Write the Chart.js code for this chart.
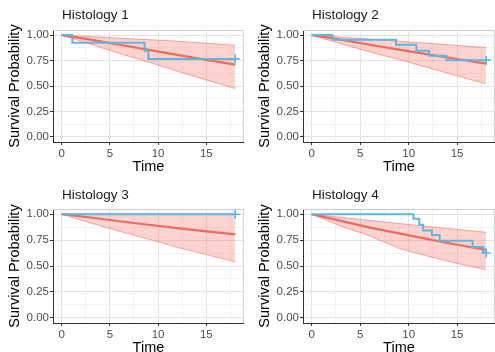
<!DOCTYPE html>
<html>
<head>
<meta charset="utf-8">
<script src="https://cdn.jsdelivr.net/npm/chart.js@4.4.1/dist/chart.umd.min.js"></script>
<style>
  html, body { margin: 0; padding: 0; background: #fff; }
  body { width: 495px; height: 352px; overflow: hidden; position: relative; }
  canvas { position: absolute; }
</style>
</head>
<body>
<canvas id="p1" width="250" height="176" style="left:0px;top:0px"></canvas>
<canvas id="p2" width="251" height="176" style="left:250px;top:0px"></canvas>
<canvas id="p3" width="250" height="181" style="left:0px;top:176px"></canvas>
<canvas id="p4" width="251" height="181" style="left:250px;top:176px"></canvas>
<script>
// Data
const panelTitles = ['Histology 1', 'Histology 2', 'Histology 3', 'Histology 4'];
const xTickLabels = [0, 5, 10, 15];
const xMinor = [2.5, 7.5, 12.5, 17.5];
const yTickLabels = [0, 0.25, 0.5, 0.75, 1];
const yMinor = [0.125, 0.375, 0.625, 0.875];

// time points of the fitted curve and its band
const fitTime = [0, 3, 6, 9, 12, 15, 18];

const h1Fit   = [1, 0.955, 0.905, 0.855, 0.805, 0.757, 0.71];
const h1Upper = [1, 0.985, 0.97, 0.955, 0.94, 0.92, 0.90];
const h1Lower = [1, 0.91, 0.82, 0.735, 0.645, 0.56, 0.475];
const h1KmTime = [0, 1.1, 8.6, 9.0, 18];
const h1KmSurv = [1, 0.925, 0.845, 0.766, 0.766];

const h2Fit   = [1, 0.955, 0.905, 0.858, 0.81, 0.765, 0.72];
const h2Upper = [1, 0.98, 0.96, 0.94, 0.92, 0.898, 0.877];
const h2Lower = [1, 0.915, 0.835, 0.76, 0.68, 0.60, 0.52];
const h2KmTime = [0, 2.15, 8.7, 10.8, 12.1, 13.9, 18];
const h2KmSurv = [1, 0.955, 0.906, 0.845, 0.796, 0.754, 0.754];

const h3Fit   = [1, 0.968, 0.932, 0.898, 0.865, 0.834, 0.805];
const h3Upper = [1, 1, 1, 1, 1, 1, 1];
const h3Lower = [1, 0.915, 0.835, 0.76, 0.68, 0.61, 0.54];
const h3KmTime = [0, 18];
const h3KmSurv = [1, 1];

const h4Fit   = [1, 0.935, 0.87, 0.815, 0.76, 0.705, 0.655];
const h4Upper = [1, 0.97, 0.94, 0.91, 0.88, 0.853, 0.825];
const h4Lower = [1, 0.885, 0.79, 0.67, 0.595, 0.525, 0.465];
const h4KmTime = [0, 10.5, 11.1, 11.5, 12.4, 13.2, 16.6, 17.7, 18];
const h4KmSurv = [1, 0.955, 0.897, 0.843, 0.798, 0.743, 0.683, 0.625, 0.625];

const FONT = "'Liberation Sans', Arial, sans-serif";
Chart.defaults.font.family = FONT;

function toXY(xs, ys) {
    return xs.map((x, i) => ({ x: x, y: ys[i] }));
}

// panel frame (light top/right border) and the panel title
const framePlugin = {
    id: 'frame',
    beforeDatasetsDraw(chart, args, opts) {
        const a = chart.chartArea;
        const ctx = chart.ctx;
        ctx.save();
        ctx.strokeStyle = '#d0d0d0';
        ctx.lineWidth = 1;
        ctx.beginPath();
        ctx.moveTo(a.left, a.top + 0.5);
        ctx.lineTo(a.right - 0.5, a.top + 0.5);
        ctx.lineTo(a.right - 0.5, a.bottom);
        ctx.stroke();
        ctx.restore();
    },
    afterDraw(chart, args, opts) {
        const ctx = chart.ctx;
        ctx.save();
        ctx.font = '13.5px ' + FONT;
        ctx.fillStyle = '#1a1a1a';
        ctx.textBaseline = 'middle';
        ctx.textAlign = 'left';
        ctx.fillText(opts.text, chart.chartArea.left + 9, opts.y);
        ctx.restore();
    }
};

function makePanel(id, title, titleY, padTop, padRight, kmTime, kmSurv, fit, lower, upper) {
    const lastKm = kmTime.length - 1;
    new Chart(document.getElementById(id), {
        type: 'line',
        data: {
            datasets: [{
                // Kaplan-Meier step curve
                data: toXY(kmTime, kmSurv),
                borderColor: '#5fb6de',
                borderWidth: 2,
                stepped: true,
                fill: false,
                pointStyle: 'cross',
                pointRadius: (c) => c.dataIndex === lastKm ? 4.5 : 0,
                pointBorderWidth: 1.6,
                pointBorderColor: '#5fb6de'
            }, {
                // fitted curve
                data: toXY(fitTime, fit),
                borderColor: '#ef6a62',
                borderWidth: 2.2,
                fill: false,
                pointRadius: 0
            }, {
                data: toXY(fitTime, upper),
                borderColor: 'rgba(240, 100, 95, 0.55)',
                borderWidth: 1,
                backgroundColor: 'rgba(248, 118, 109, 0.32)',
                fill: '+1',
                pointRadius: 0
            }, {
                data: toXY(fitTime, lower),
                borderColor: 'rgba(240, 100, 95, 0.55)',
                borderWidth: 1,
                fill: false,
                pointRadius: 0
            }]
        },
        options: {
            responsive: false,
            animation: false,
            events: [],
            layout: { padding: { top: padTop, right: padRight, left: 0, bottom: 0 } },
            plugins: {
                legend: { display: false },
                tooltip: { enabled: false },
                frame: { text: title, y: titleY }
            },
            scales: {
                x: {
                    type: 'linear',
                    min: -0.9,
                    max: 18.9,
                    afterFit: (s) => { s.height = 34; },
                    afterBuildTicks: (s) => {
                        s.ticks = xTickLabels.concat(xMinor).sort((a, b) => a - b).map(v => ({ value: v }));
                    },
                    border: { color: '#333333', width: 1 },
                    grid: {
                        color: (c) => xTickLabels.includes(c.tick.value) ? '#e4e4e4' : '#f3f3f3',
                        tickColor: (c) => xTickLabels.includes(c.tick.value) ? '#333333' : 'rgba(0,0,0,0)',
                        tickLength: 3
                    },
                    ticks: {
                        autoSkip: false,
                        maxRotation: 0,
                        padding: 2,
                        color: '#4d4d4d',
                        font: { size: 11.5 },
                        callback: (v) => xTickLabels.includes(v) ? String(v) : ''
                    },
                    title: {
                        display: true,
                        text: 'Time',
                        color: '#000',
                        font: { size: 14.5 },
                        padding: { top: 0, bottom: 0 }
                    }
                },
                y: {
                    type: 'linear',
                    min: -0.05,
                    max: 1.05,
                    afterFit: (s) => { s.width = 53; },
                    afterBuildTicks: (s) => {
                        s.ticks = yTickLabels.concat(yMinor).sort((a, b) => a - b).map(v => ({ value: v }));
                    },
                    border: { color: '#333333', width: 1 },
                    grid: {
                        color: (c) => yTickLabels.includes(c.tick.value) ? '#e4e4e4' : '#f3f3f3',
                        tickColor: (c) => yTickLabels.includes(c.tick.value) ? '#333333' : 'rgba(0,0,0,0)',
                        tickLength: 3
                    },
                    ticks: {
                        autoSkip: false,
                        padding: 1,
                        color: '#4d4d4d',
                        font: { size: 11.5 },
                        callback: (v) => yTickLabels.includes(v) ? v.toFixed(2) : ''
                    },
                    title: {
                        display: true,
                        text: 'Survival Probability',
                        color: '#000',
                        font: { size: 14.5 },
                        padding: { top: 6, bottom: 0 }
                    }
                }
            }
        },
        plugins: [framePlugin]
    });
}

document.addEventListener('DOMContentLoaded', function() {
    makePanel('p1', panelTitles[0], 15, 30, 1.5, h1KmTime, h1KmSurv, h1Fit, h1Lower, h1Upper);
    makePanel('p2', panelTitles[1], 15, 30, 1.5, h2KmTime, h2KmSurv, h2Fit, h2Lower, h2Upper);
    makePanel('p3', panelTitles[2], 19, 33, 1.5, h3KmTime, h3KmSurv, h3Fit, h3Lower, h3Upper);
    makePanel('p4', panelTitles[3], 19, 33, 1.5, h4KmTime, h4KmSurv, h4Fit, h4Lower, h4Upper);
});
</script>
</body>
</html>
